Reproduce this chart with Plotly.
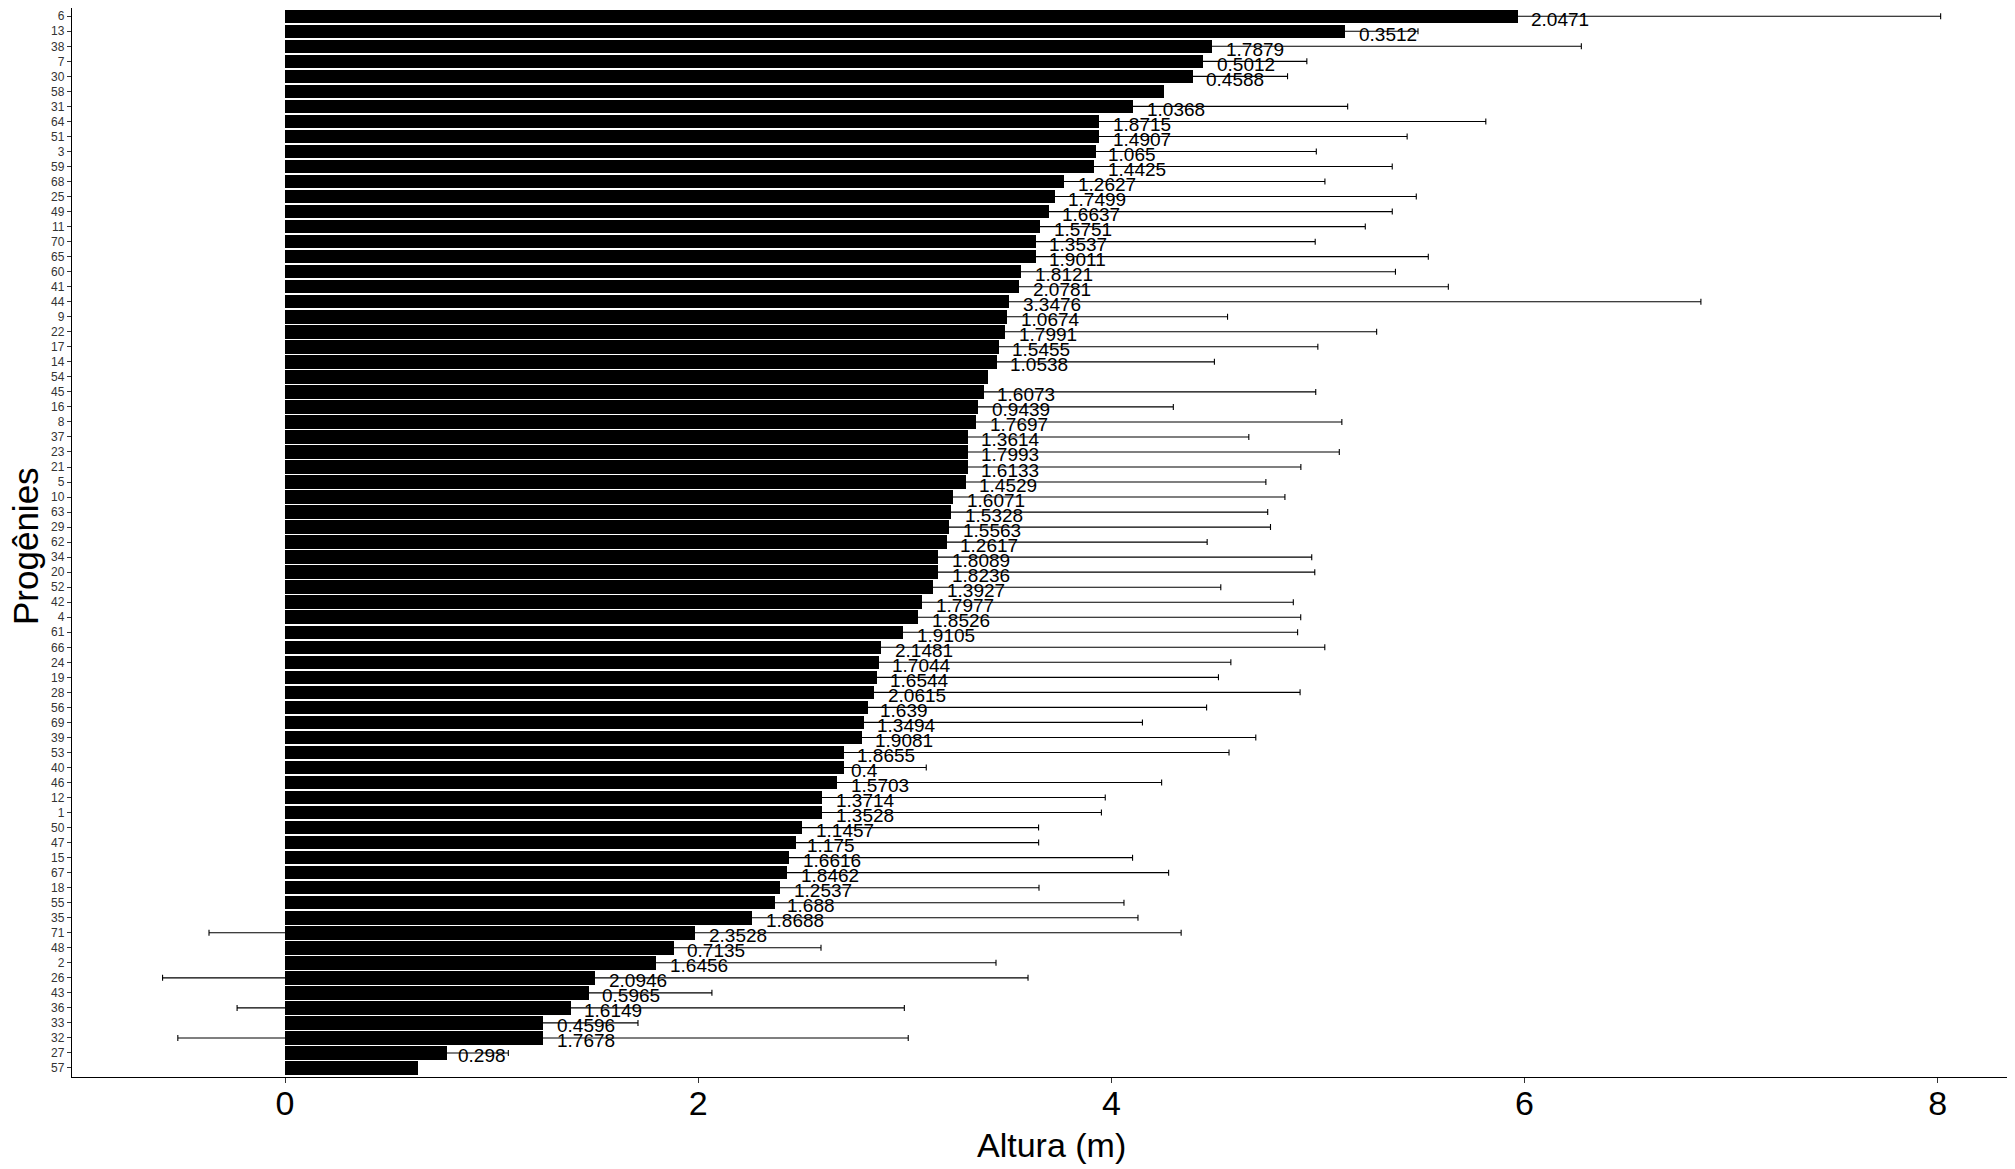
import plotly.graph_objects as go

progenies = ["6","13","38","7","30","58","31","64","51","3","59","68","25","49","11","70","65","60","41","44",
             "9","22","17","14","54","45","16","8","37","23","21","5","10","63","29","62","34","20","52","42",
             "4","61","66","24","19","28","56","69","39","53","40","46","12","1","50","47","15","67","18","55",
             "35","71","48","2","26","43","36","33","32","27","57"]

altura = [5.967,5.133,4.487,4.445,4.394,4.256,4.107,3.941,3.941,3.927,3.917,3.771,3.726,3.696,3.654,3.633,3.633,3.563,3.553,3.506,
          3.495,3.485,3.454,3.445,3.403,3.382,3.356,3.346,3.304,3.304,3.304,3.295,3.233,3.224,3.214,3.202,3.161,3.161,3.137,3.083,
          3.064,2.991,2.885,2.874,2.864,2.852,2.822,2.801,2.791,2.704,2.704,2.673,2.599,2.599,2.502,2.473,2.441,2.431,2.396,2.373,
          2.260,1.985,1.881,1.796,1.502,1.470,1.383,1.249,1.249,0.783,0.645]

desvio = ["2.0471","0.3512","1.7879","0.5012","0.4588",None,"1.0368","1.8715","1.4907","1.065","1.4425","1.2627","1.7499","1.6637","1.5751","1.3537","1.9011","1.8121","2.0781","3.3476",
          "1.0674","1.7991","1.5455","1.0538",None,"1.6073","0.9439","1.7697","1.3614","1.7993","1.6133","1.4529","1.6071","1.5328","1.5563","1.2617","1.8089","1.8236","1.3927","1.7977",
          "1.8526","1.9105","2.1481","1.7044","1.6544","2.0615","1.639","1.3494","1.9081","1.8655","0.4","1.5703","1.3714","1.3528","1.1457","1.175","1.6616","1.8462","1.2537","1.688",
          "1.8688","2.3528","0.7135","1.6456","2.0946","0.5965","1.6149","0.4596","1.7678","0.298",None]

x_ticks = [0, 2, 4, 6, 8]

fig = go.Figure()

fig.add_trace(go.Bar(
    x=altura, y=progenies, orientation="h",
    marker=dict(color="black", line=dict(width=0)),
    width=0.9, showlegend=False, hoverinfo="x+y",
))

# error bars (only where a standard deviation exists)
ey, ex, ee = [], [], []
for p, a, d in zip(progenies, altura, desvio):
    if d is not None:
        ey.append(p); ex.append(a); ee.append(float(d))
fig.add_trace(go.Scatter(
    x=ex, y=ey, mode="markers",
    marker=dict(size=1, opacity=0),
    error_x=dict(type="data", array=ee, symmetric=True, color="black", thickness=1.1, width=3),
    showlegend=False, hoverinfo="skip",
))

FS = 19
def text_width(s):
    return sum(0.278 if c == "." else 0.556 for c in s) * FS

annotations = []
for i, (p, a, d) in enumerate(zip(progenies, altura, desvio)):
    if d is None:
        continue
    annotations.append(dict(
        x=a, y=i, xref="x", yref="y", text=d, showarrow=False,
        xanchor="left", yanchor="middle", xshift=0.2 * text_width(d), yshift=-3,
        font=dict(family="Liberation Sans, Arial, sans-serif", size=FS, color="black"),
    ))

# page body has an 8px margin; compensate so the plot lands where the reference has it
OFF = 8
W, H = 2015 - OFF, 1169 - OFF
ML, MR, MT = 72 - OFF, 0, 0
plot_bottom = 1077 - OFF
MB = H - plot_bottom
pw, ph = W - ML - MR, H - MT - MB

annotations.append(dict(
    text="Altura (m)", xref="paper", yref="paper", x=(1051 - 72) / pw, y=-68 / ph,
    xanchor="center", yanchor="middle", showarrow=False,
    font=dict(family="Liberation Sans, Arial, sans-serif", size=34, color="black"),
))
annotations.append(dict(
    text="Progênies", xref="paper", yref="paper", x=-47 / pw, y=(1077 - 546) / ph,
    xanchor="center", yanchor="middle", showarrow=False, textangle=-90,
    font=dict(family="Liberation Sans, Arial, sans-serif", size=35, color="black"),
))

fig.update_layout(
    width=W, height=H,
    margin=dict(l=ML, r=MR, t=MT, b=MB, pad=0, autoexpand=False),
    paper_bgcolor="white", plot_bgcolor="white",
    bargap=0,
    annotations=annotations,
    xaxis=dict(
        range=[-1.031, 8.374], tickvals=x_ticks, ticktext=[str(v) for v in x_ticks],
        showgrid=False, zeroline=False, automargin=False,
        showline=True, linecolor="black", linewidth=1.3,
        ticks="outside", ticklen=5, tickcolor="#333333", tickwidth=1.1,
        ticklabelstandoff=-9,
        tickfont=dict(family="Liberation Sans, Arial, sans-serif", size=34, color="black"),
    ),
    yaxis=dict(
        type="category", categoryorder="array", categoryarray=progenies,
        range=[len(progenies) - 0.4, -0.55],
        showgrid=False, zeroline=False, automargin=False,
        showline=True, linecolor="black", linewidth=1.3,
        ticks="outside", ticklen=4, tickcolor="#333333", tickwidth=1,
        tickfont=dict(family="Liberation Sans, Arial, sans-serif", size=12, color="#333333"),
    ),
)

fig.write_html("out.html")
